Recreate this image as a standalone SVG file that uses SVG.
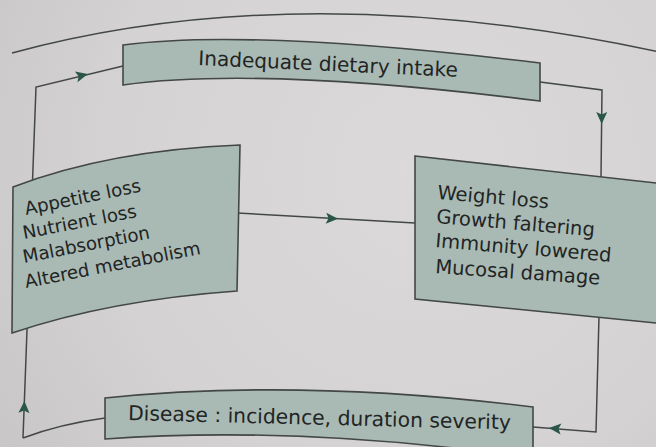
<svg xmlns="http://www.w3.org/2000/svg" xmlns:xlink="http://www.w3.org/1999/xlink" width="656" height="447" viewBox="0 0 656 447">
  <defs>
    <radialGradient id="paper" cx="420" cy="170" r="520" gradientUnits="userSpaceOnUse">
      <stop offset="0" stop-color="#dbd9da"/>
      <stop offset="0.6" stop-color="#d4d2d3"/>
      <stop offset="1" stop-color="#c7c5c6"/>
    </radialGradient>
    <path id="ah" d="M6,0 L-6,-5.5 L-3.5,0 L-6,5.5 Z"/>
    <style>
      .box { fill: #a9bab4; stroke: #434746; stroke-width: 1.6; }
      .ln { fill: none; stroke: #434746; stroke-width: 1.5; }
      .arr { fill: #2a5549; }
      .t { font-family: "DejaVu Sans", "Liberation Sans", sans-serif; fill: #222424; }
    </style>
  </defs>

  <rect x="0" y="0" width="656" height="447" fill="url(#paper)"/>

  <!-- decorative top arc -->
  <path class="ln" d="M12,53 Q300,-25 660,52" stroke-width="1.8"/>

  <g id="connectors">
    <path class="ln" d="M23,438 L36,87 L123,66"/>
    <path class="ln" d="M540,82 L602,90 L601,177"/>
    <path class="ln" d="M237,213 L415,223"/>
    <path class="ln" d="M599,316 L596,432 L533,427"/>
    <path class="ln" d="M105,418 Q60,424 23,438"/>
    <use class="arr" xlink:href="#ah" href="#ah" transform="translate(82,75.5) rotate(-13.5)"/>
    <use class="arr" xlink:href="#ah" href="#ah" transform="translate(601.7,118) rotate(90)"/>
    <use class="arr" xlink:href="#ah" href="#ah" transform="translate(332,218.5) rotate(3.2)"/>
    <use class="arr" xlink:href="#ah" href="#ah" transform="translate(555,428.5) rotate(184.5)"/>
    <use class="arr" xlink:href="#ah" href="#ah" transform="translate(24.2,407) rotate(-88)"/>
  </g>

  <g id="node-intake">
    <path class="box" d="M123,45 Q250,28 540,63 L540,101 Q260,66 123,85 Z"/>
    <text class="t" x="198" y="65" font-size="20.1" transform="rotate(2.6 198 65)">Inadequate dietary intake</text>
  </g>

  <g id="node-losses">
    <path class="box" d="M13,187 Q110,150 240,145 L237,291 Q110,300 12,333 Z"/>
    <g class="t" font-size="18.2">
      <text x="26" y="215" transform="rotate(-11.5 26 215)">Appetite loss</text>
      <text x="24" y="239" transform="rotate(-11 24 239)">Nutrient loss</text>
      <text x="24" y="263" transform="rotate(-11 24 263)">Malabsorption</text>
      <text x="26" y="288" transform="rotate(-11 26 288)">Altered metabolism</text>
    </g>
  </g>

  <g id="node-effects">
    <path class="box" d="M415,156 L670,184.6 L670,324.4 L415,299 Z"/>
    <g class="t" font-size="19.5">
      <text x="437" y="199" transform="rotate(4.8 437 199)">Weight loss</text>
      <text x="436" y="223" transform="rotate(4.8 436 223)">Growth faltering</text>
      <text x="435" y="247" transform="rotate(4.8 435 247)">Immunity lowered</text>
      <text x="435" y="273" transform="rotate(4 435 273)">Mucosal damage</text>
    </g>
  </g>

  <g id="node-disease">
    <path class="box" d="M105,398 Q300,378 533,407 L533,458 Q300,425 105,439 Z"/>
    <text class="t" x="128" y="420" font-size="20.3" transform="rotate(1.4 128 420)">Disease : incidence, duration severity</text>
  </g>
</svg>
